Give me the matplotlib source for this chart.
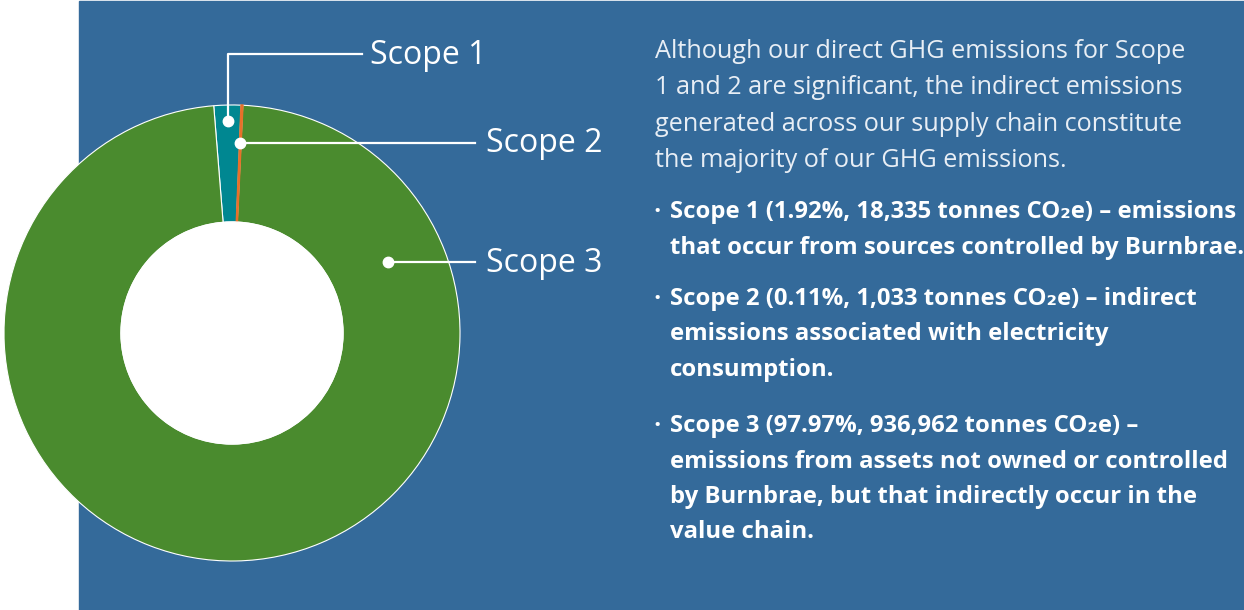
import matplotlib
matplotlib.use('Agg')
import matplotlib.pyplot as plt
from matplotlib.patches import Rectangle, Circle
import numpy as np

# data
scopes = ['Scope 1', 'Scope 2', 'Scope 3']
shares = [1.92, 0.11, 97.97]
colors = ['#008791', '#e8702a', '#4a8b2e']

intro = [
    'Although our direct GHG emissions for Scope',
    '1 and 2 are significant, the indirect emissions',
    'generated across our supply chain constitute',
    'the majority of our GHG emissions.',
]
bullets = [
    ['Scope 1 (1.92%, 18,335 tonnes CO\u2082e) \u2013 emissions',
     'that occur from sources controlled by Burnbrae.'],
    ['Scope 2 (0.11%, 1,033 tonnes CO\u2082e) \u2013 indirect',
     'emissions associated with electricity',
     'consumption.'],
    ['Scope 3 (97.97%, 936,962 tonnes CO\u2082e) \u2013',
     'emissions from assets not owned or controlled',
     'by Burnbrae, but that indirectly occur in the',
     'value chain.'],
]

W, H = 1244, 610
fig = plt.figure(figsize=(W / 100, H / 100), dpi=100)
ax = fig.add_axes([0, 0, 1, 1])
fam = ['Open Sans', 'DejaVu Sans']

# blue panel
ax.add_patch(Rectangle((79, 0), W - 79, H - 1, color='#346a9a', zorder=0))

cx, cy = 232, H - 333
R, r_in = 228, 111
start = 94.6
wedges, _ = ax.pie(shares, colors=colors, startangle=start, counterclock=False,
                   center=(cx, cy), radius=R,
                   wedgeprops=dict(width=R - r_in, edgecolor='white', linewidth=0.8))
for w in wedges:
    w.set_zorder(2)
# thin orange slice: give it its own edge so it stays visible
wedges[1].set_edgecolor(colors[1])
wedges[1].set_linewidth(1.3)
wedges[1].set_zorder(2.5)
# white hole
ax.add_patch(Circle((cx, cy), r_in, color='white', zorder=2.6))

# leader lines
def mid_angle(w):
    return np.deg2rad((w.theta1 + w.theta2) / 2)

a1 = mid_angle(wedges[0])
p1 = (cx + 0.93 * R * np.cos(a1), cy + 0.93 * R * np.sin(a1))
a2 = mid_angle(wedges[1])
p2 = (cx + 0.835 * R * np.cos(a2), cy + 0.835 * R * np.sin(a2))
a3 = np.deg2rad(24.5)
p3 = (cx + 0.75 * R * np.cos(a3), cy + 0.75 * R * np.sin(a3))

lc = 'white'
ax.plot([p1[0], p1[0], 362], [p1[1], H - 54, H - 54], color=lc, lw=1.6, zorder=3)
ax.plot([p2[0], 475], [p2[1], p2[1]], color=lc, lw=1.6, zorder=3)
ax.plot([p3[0], 475], [p3[1], p3[1]], color=lc, lw=1.6, zorder=3)
for p in (p1, p2, p3):
    ax.plot(p[0], p[1], 'o', color='white', ms=7.5, zorder=4)

ax.text(370, H - 64, scopes[0], color='white', fontsize=23, family=fam, va='baseline')
ax.text(486, p2[1] - 9.5, scopes[1], color='white', fontsize=23, family=fam, va='baseline')
ax.text(486, p3[1] - 9.5, scopes[2], color='white', fontsize=23, family=fam, va='baseline')

# paragraph
y = H - 58
for line in intro:
    ax.text(655, y, line, color='#e8eef5', fontsize=18.2, family=fam, va='baseline')
    y -= 36.3

# bullet list
starts = [218, 305, 432]
for lines, b0 in zip(bullets, starts):
    y = H - b0
    ax.text(653, y + 1, '\u2022', color='white', fontsize=14, family=fam, va='baseline')
    for line in lines:
        ax.text(670, y, line, color='white', fontsize=17.2, family=fam,
                fontweight='bold', va='baseline')
        y -= 35.5

ax.set_xlim(0, W)
ax.set_ylim(0, H)
ax.set_aspect('auto')
ax.axis('off')

fig.savefig('out.png', dpi=100, facecolor='white')
